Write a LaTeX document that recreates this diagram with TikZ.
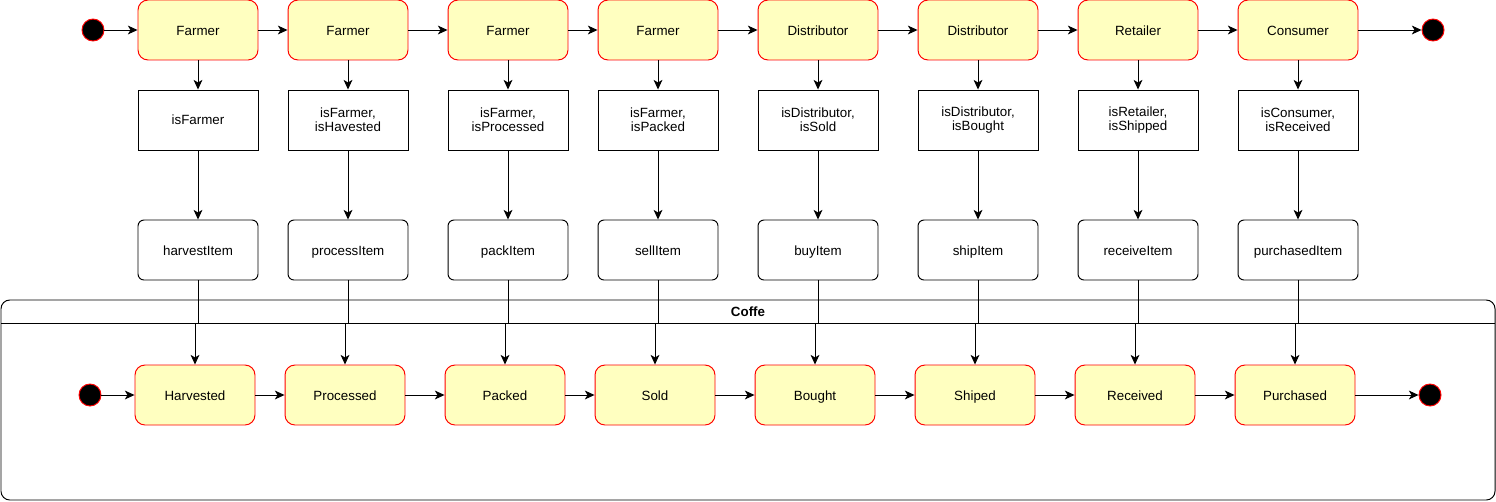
\documentclass[tikz,border=0pt]{standalone}
\usepackage{fontspec}
\setmainfont{Liberation Sans}
\usetikzlibrary{arrows.meta}

\definecolor{stfill}{HTML}{FFFFC0}
\tikzset{
    actor/.style={draw=red, fill=stfill, rounded corners=5.7pt, line width=0.55pt,
        minimum width=2.4cm, minimum height=1.2cm, inner sep=0pt, text height=1.5ex, text depth=0.3ex,
        font=\fontsize{7.6}{8.2}\selectfont},
    guard/.style={draw, line width=0.55pt, minimum width=2.4cm, minimum height=1.2cm,
        inner sep=0pt, align=center, font=\fontsize{7.6}{8.2}\selectfont},
    action/.style={guard, rounded corners=3.4pt, text height=1.5ex, text depth=0.3ex},
    pin/.style={circle, draw=red, fill=black, line width=0.55pt, minimum size=0.44cm, inner sep=0pt},
    flow/.style={line width=0.55pt, -{Stealth[length=5.5pt, width=5pt, inset=1.5pt]}},
}

\begin{document}
\begin{tikzpicture}[x=0.02cm, y=-0.02cm]
    \useasboundingbox (0,0) rectangle (1496,501);

    \node[pin] (s0) at (93,30) {};
    \node[actor] (a1) at (198,30) {Farmer};
    \node[actor] (a2) at (348,30) {Farmer};
    \node[actor] (a3) at (508,30) {Farmer};
    \node[actor] (a4) at (658,30) {Farmer};
    \node[actor] (a5) at (818,30) {Distributor};
    \node[actor] (a6) at (978,30) {Distributor};
    \node[actor] (a7) at (1138,30) {Retailer};
    \node[actor] (a8) at (1298,30) {Consumer};
    \node[pin] (s1) at (1433,30) {};

    \node[guard] (g1) at (198,120) {isFarmer};
    \node[guard] (g2) at (348,120) {isFarmer,\\isHavested};
    \node[guard] (g3) at (508,120) {isFarmer,\\isProcessed};
    \node[guard] (g4) at (658,120) {isFarmer,\\isPacked};
    \node[guard] (g5) at (818,120) {isDistributor,\\isSold};
    \node[guard] (g6) at (978,120) {isDistributor,\\isBought};
    \node[guard] (g7) at (1138,120) {isRetailer,\\isShipped};
    \node[guard] (g8) at (1298,120) {isConsumer,\\isReceived};

    \node[action] (f1) at (198,250) {harvestItem};
    \node[action] (f2) at (348,250) {processItem};
    \node[action] (f3) at (508,250) {packItem};
    \node[action] (f4) at (658,250) {sellItem};
    \node[action] (f5) at (818,250) {buyItem};
    \node[action] (f6) at (978,250) {shipItem};
    \node[action] (f7) at (1138,250) {receiveItem};
    \node[action] (f8) at (1298,250) {purchasedItem};

    \draw[line width=0.55pt, rounded corners=5pt] (1,300) rectangle (1495,500);
    \draw[line width=0.55pt] (1,323) -- (1495,323);
    \node[font=\fontsize{7.6}{8.2}\selectfont\bfseries] (lane) at (748,312) {Coffe};

    \node[pin] (c0) at (90,395) {};
    \node[actor] (p1) at (195,395) {Harvested};
    \node[actor] (p2) at (345,395) {Processed};
    \node[actor] (p3) at (505,395) {Packed};
    \node[actor] (p4) at (655,395) {Sold};
    \node[actor] (p5) at (815,395) {Bought};
    \node[actor] (p6) at (975,395) {Shiped};
    \node[actor] (p7) at (1135,395) {Received};
    \node[actor] (p8) at (1295,395) {Purchased};
    \node[pin] (c1) at (1430,395) {};

    \draw[flow] (s0) -- (a1);
    \draw[flow] (a1) -- (a2);
    \draw[flow] (a2) -- (a3);
    \draw[flow] (a3) -- (a4);
    \draw[flow] (a4) -- (a5);
    \draw[flow] (a5) -- (a6);
    \draw[flow] (a6) -- (a7);
    \draw[flow] (a7) -- (a8);
    \draw[flow] (a8) -- (s1);

    \draw[flow] (a1) -- (g1);  \draw[flow] (g1) -- (f1);
    \draw[flow] (a2) -- (g2);  \draw[flow] (g2) -- (f2);
    \draw[flow] (a3) -- (g3);  \draw[flow] (g3) -- (f3);
    \draw[flow] (a4) -- (g4);  \draw[flow] (g4) -- (f4);
    \draw[flow] (a5) -- (g5);  \draw[flow] (g5) -- (f5);
    \draw[flow] (a6) -- (g6);  \draw[flow] (g6) -- (f6);
    \draw[flow] (a7) -- (g7);  \draw[flow] (g7) -- (f7);
    \draw[flow] (a8) -- (g8);  \draw[flow] (g8) -- (f8);

    \draw[flow] (f1.south) -- ++(0,43) -| (p1.north);
    \draw[flow] (f2.south) -- ++(0,43) -| (p2.north);
    \draw[flow] (f3.south) -- ++(0,43) -| (p3.north);
    \draw[flow] (f4.south) -- ++(0,43) -| (p4.north);
    \draw[flow] (f5.south) -- ++(0,43) -| (p5.north);
    \draw[flow] (f6.south) -- ++(0,43) -| (p6.north);
    \draw[flow] (f7.south) -- ++(0,43) -| (p7.north);
    \draw[flow] (f8.south) -- ++(0,43) -| (p8.north);

    \draw[flow] (c0) -- (p1);
    \draw[flow] (p1) -- (p2);
    \draw[flow] (p2) -- (p3);
    \draw[flow] (p3) -- (p4);
    \draw[flow] (p4) -- (p5);
    \draw[flow] (p5) -- (p6);
    \draw[flow] (p6) -- (p7);
    \draw[flow] (p7) -- (p8);
    \draw[flow] (p8) -- (c1);
\end{tikzpicture}
\end{document}
